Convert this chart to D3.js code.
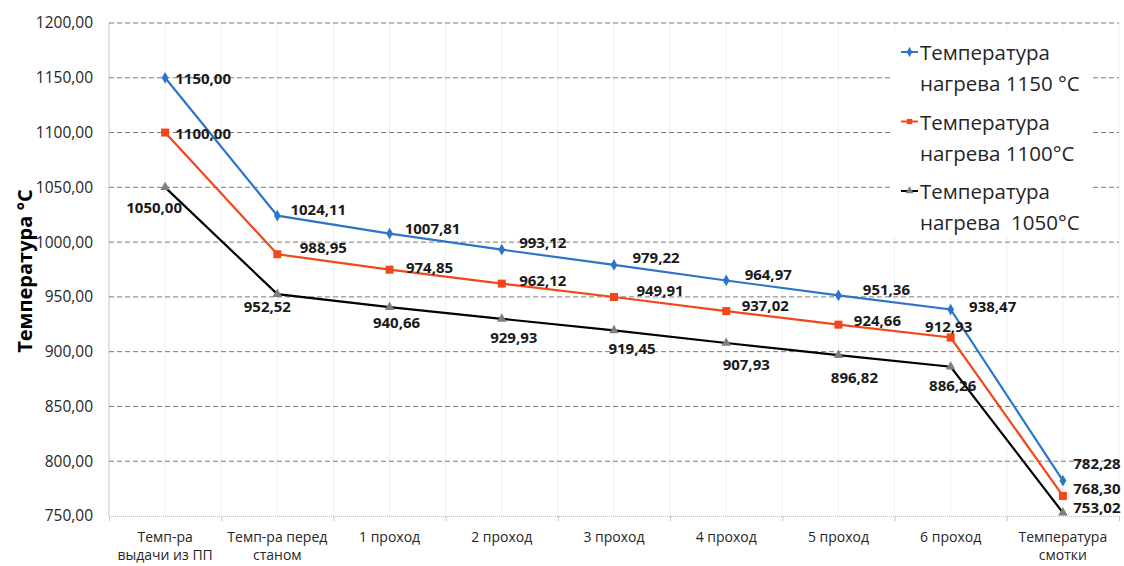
<!DOCTYPE html>
<html><head><meta charset="utf-8">
<script src="https://cdn.jsdelivr.net/npm/d3@7"></script>
<style>
body{margin:0;background:#fff;}
svg{display:block;font-family:"Open Sans",sans-serif;}
</style></head>
<body><svg id="c" width="1124" height="566"></svg>
<script>
const categories = [["Темп-ра","выдачи из ПП"],["Темп-ра перед","станом"],["1 проход"],["2 проход"],["3 проход"],["4 проход"],["5 проход"],["6 проход"],["Температура","смотки"]];
const series1150 = [1150.00,1024.11,1007.81,993.12,979.22,964.97,951.36,938.47,782.28];
const series1100 = [1100.00,988.95,974.85,962.12,949.91,937.02,924.66,912.93,768.30];
const series1050 = [1050.00,952.52,940.66,929.93,919.45,907.93,896.82,886.26,753.02];
const seriesNames = [["Температура","нагрева 1150 °C"],["Температура","нагрева 1100°C"],["Температура","нагрева  1050°C"]];
const yTicks = [750,800,850,900,950,1000,1050,1100,1150,1200];

// label offsets (style): [dx, dy] from point to label centre
const off1150 = [[38,0],[41,-7],[43,-6],[41,-8],[42,-8],[42,-6],[48,-6],[42,-4],[34,-18]];
const off1100 = [[38,0],[46,-7],[40,-3],[41,-4],[46,-7],[39,-6],[39,-5],[-2,-12],[34,-8]];
const off1050 = [[-11,20],[-10,12],[7,15],[12,18],[18,18],[20,21],[16,22],[2,18],[34,-6]];

const svg = d3.select("#c");
const L = 109, R = 1119, T = 23, B = 516;
const x = d3.scaleBand().domain(d3.range(categories.length)).range([L,R]).paddingInner(0).paddingOuter(0);
const cx = i => x(i) + x.bandwidth()/2;
const y = d3.scaleLinear().domain([750,1200]).range([B,T]);
const fmt = v => d3.format(".2f")(v).replace(".", ",");

// vertical faint gridlines (every half band)
const vg = svg.append("g");
for (let i=0;i<=categories.length*2;i++){
  const xx = L + i*x.bandwidth()/2;
  vg.append("line").attr("x1",xx).attr("x2",xx).attr("y1",T).attr("y2",B)
    .attr("stroke",i===0?"#c8c8c8":"#e2e2e2").attr("stroke-width",1)
    .attr("stroke-dasharray",i===0?null:"1,1");
}
// horizontal dashed gridlines
svg.append("g").selectAll("line").data(yTicks.filter(t=>t>750)).join("line")
  .attr("x1",L).attr("x2",R).attr("y1",d=>y(d)).attr("y2",d=>y(d))
  .attr("stroke","#7a7a7a").attr("stroke-width",1).attr("stroke-dasharray","5,3");

// x axis
const xAxis = d3.axisBottom(d3.scaleLinear().domain([0,categories.length]).range([L,R]))
  .tickValues(d3.range(0,categories.length+1)).tickSize(5).tickFormat("");
const xg = svg.append("g").attr("transform",`translate(0,${B})`).call(xAxis);
xg.select(".domain").attr("stroke","#c0c0c0").attr("stroke-dasharray","1,1");
xg.selectAll(".tick line").attr("stroke","#c8c8c8");
// x category labels
const xl = svg.append("g");
categories.forEach((c,i)=>{
  const t = xl.append("text").attr("x",cx(i)).attr("y",542).attr("text-anchor","middle")
    .attr("font-size",14).attr("fill","#262626");
  c.forEach((s,j)=>t.append("tspan").attr("x",cx(i)).attr("dy",j?18:0).text(s));
});

// y axis
const yAxis = d3.axisLeft(y).tickValues(yTicks).tickSize(0).tickPadding(16).tickFormat(fmt);
const yg = svg.append("g").attr("transform",`translate(${L},0)`).call(yAxis);
yg.select(".domain").remove();
yg.selectAll("text").attr("font-size",15.5).attr("fill","#262626").attr("font-family","Open Sans");

svg.append("text").attr("transform","translate(24,271) rotate(-90)").attr("text-anchor","middle")
  .attr("dominant-baseline","central")
  .attr("font-size",20).attr("font-weight","bold").attr("fill","#000").text("Температура °C");

const cfg = [
  {data:series1150, color:"#2c75c9", marker:"diamond", mfill:"#2c75c9", off:off1150},
  {data:series1100, color:"#f2461b", marker:"square", mfill:"#f2461b", off:off1100},
  {data:series1050, color:"#000000", marker:"triangle", mfill:"#7f7f7f", off:off1050}
];
const symFor = m => m==="diamond"? d3.symbol(d3.symbolDiamond, 40) : m==="square"? d3.symbol(d3.symbolSquare, 64) : d3.symbol(d3.symbolTriangle, 40);
const line = d3.line().x((d,i)=>cx(i)).y(d=>y(d));

[2,1,0].forEach(k=>{
  const s = cfg[k];
  const g = svg.append("g");
  g.append("path").datum(s.data).attr("d",line).attr("fill","none").attr("stroke",s.color).attr("stroke-width",2.2);
  g.selectAll("path.m").data(s.data).join("path").attr("class","m")
    .attr("transform",(d,i)=>`translate(${cx(i)},${y(d)})`).attr("d",symFor(s.marker)).attr("fill",s.mfill);
});
cfg.forEach(s=>{
  svg.append("g").selectAll("text").data(s.data).join("text")
    .attr("x",(d,i)=>cx(i)+s.off[i][0]).attr("y",(d,i)=>y(d)+s.off[i][1])
    .attr("text-anchor","middle").attr("dominant-baseline","central")
    .attr("font-size",15).attr("font-weight","bold").attr("fill","#1a1a1a").text(d=>fmt(d));
});

// legend
const lg = svg.append("g");
lg.append("rect").attr("x",893).attr("y",31).attr("width",200).attr("height",205).attr("fill","#fff");
cfg.forEach((s,k)=>{
  const yy = 52 + k*69.5;
  lg.append("line").attr("x1",901).attr("x2",918).attr("y1",yy).attr("y2",yy).attr("stroke",s.color).attr("stroke-width",2);
  lg.append("path").attr("transform",`translate(909.5,${yy})`).attr("d",d3.symbol(
      s.marker==="diamond"?d3.symbolDiamond:s.marker==="square"?d3.symbolSquare:d3.symbolTriangle, 28)).attr("fill",s.mfill);
  const t = lg.append("text").attr("x",920).attr("y",yy).attr("dominant-baseline","central")
    .attr("font-size",20.5).attr("fill","#262626").attr("xml:space","preserve");
  seriesNames[k].forEach((n,j)=>t.append("tspan").attr("x",920).attr("dy",j?31:0).text(n));
});
</script></body></html>
